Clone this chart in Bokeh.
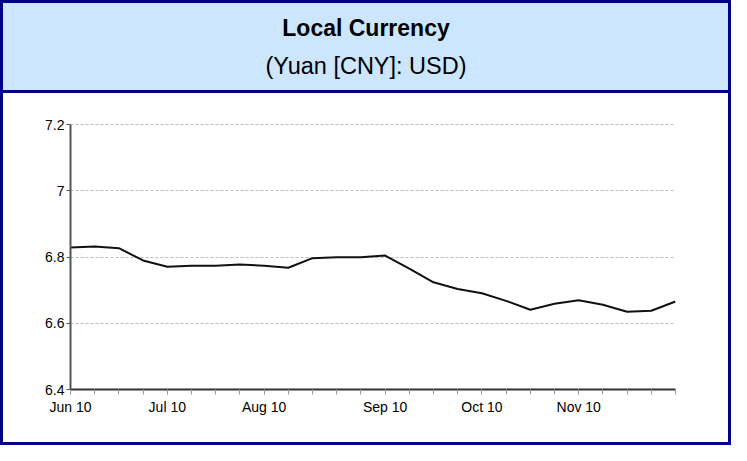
import pandas as pd
from bokeh.plotting import figure
from bokeh.layouts import column
from bokeh.models import ColumnDataSource, FixedTicker, DatetimeTickFormatter, Range1d
from bokeh.core.properties import value
from bokeh.embed import file_html
from bokeh.resources import INLINE

# ---- data ----
title_text = "Local Currency"
subtitle_text = "(Yuan [CNY]: USD)"
dates = ["2010-06-07", "2010-06-14", "2010-06-21", "2010-06-28",
         "2010-07-05", "2010-07-12", "2010-07-19", "2010-07-26",
         "2010-08-02", "2010-08-09", "2010-08-16", "2010-08-23", "2010-08-30",
         "2010-09-06", "2010-09-13", "2010-09-20", "2010-09-27",
         "2010-10-04", "2010-10-11", "2010-10-18", "2010-10-25",
         "2010-11-01", "2010-11-08", "2010-11-15", "2010-11-22", "2010-11-29"]
cny_per_usd = [6.829, 6.832, 6.827, 6.790, 6.771, 6.774, 6.774, 6.778,
               6.774, 6.768, 6.797, 6.800, 6.800, 6.805, 6.765, 6.724,
               6.704, 6.691, 6.668, 6.641, 6.659, 6.670, 6.656, 6.635,
               6.638, 6.666]
y_ticks = [6.4, 6.6, 6.8, 7.0, 7.2]
y_tick_labels = ["6.4", "6.6", "6.8", "7", "7.2"]

NAVY = "#000088"
HEAD = "#cce6ff"
FONT = "Liberation Sans"

dt = pd.to_datetime(dates)
ms = [d.timestamp() * 1000 for d in dt]
major = []
seen = set()
for d, m in zip(dt, ms):
    key = (d.year, d.month)
    if key not in seen:
        seen.add(key)
        major.append(m)


def no_align(fig):
    try:
        fig.frame_align = False
    except Exception:
        pass


# ---- header ----
head = figure(width=725, height=87, output_backend="svg", toolbar_location=None,
              x_range=Range1d(0, 1), y_range=Range1d(0, 1),
              min_border=0, background_fill_color=HEAD, border_fill_color=HEAD,
              outline_line_color=None)
no_align(head)
head.axis.visible = False
head.grid.visible = False
head.text(x=[0.5], y=[0.724], text=[title_text], text_align="center",
          text_baseline="middle", text_font=value(FONT), text_font_style="bold",
          text_font_size="23px", text_color="#000000")
head.text(x=[0.5], y=[0.28], text=[subtitle_text], text_align="center",
          text_baseline="middle", text_font=value(FONT),
          text_font_size="23.5px", text_color="#000000")

# ---- main plot ----
src = ColumnDataSource(dict(x=dt, y=cny_per_usd))
p = figure(width=725, height=349, output_backend="svg", toolbar_location=None,
           x_axis_type="datetime",
           x_range=Range1d(ms[0], ms[-1]),
           y_range=Range1d(y_ticks[0], y_ticks[-1] + 0.004),
           min_border_left=67, min_border_right=53, min_border_top=30,
           min_border_bottom=53, outline_line_color=None,
           background_fill_color="white", border_fill_color="white")
no_align(p)

p.xgrid.visible = False
p.ygrid.ticker = FixedTicker(ticks=y_ticks)
p.ygrid.grid_line_color = "#bdbdbd"
p.ygrid.grid_line_dash = "3 2"
p.ygrid.grid_line_width = 1

p.line("x", "y", source=src, line_color="#111111", line_width=2)

xa = p.xaxis[0]
xa.ticker = FixedTicker(ticks=major, minor_ticks=ms)
xa.formatter = DatetimeTickFormatter(days="%b %y", months="%b %y", years="%b %y",
                                     hours="%b %y", minutes="%b %y")
xa.axis_line_color = "#333333"
xa.axis_line_width = 2
xa.major_tick_line_color = "#999999"
xa.minor_tick_line_color = "#999999"
xa.major_tick_out = 5
xa.major_tick_in = 0
xa.minor_tick_out = 5
xa.minor_tick_in = 0
xa.major_label_standoff = 4
xa.major_label_text_font = FONT
xa.major_label_text_font_size = "14px"
xa.major_label_text_color = "#000000"

ya = p.yaxis[0]
ya.ticker = FixedTicker(ticks=y_ticks)
ya.bounds = (y_ticks[0], y_ticks[-1])
ya.major_label_overrides = {t: l for t, l in zip(y_ticks, y_tick_labels)}
ya.axis_line_color = "#555555"
ya.axis_line_width = 2
ya.major_tick_line_color = "#555555"
ya.major_tick_out = 4
ya.major_tick_in = 0
ya.minor_tick_line_color = None
ya.major_label_standoff = 2
ya.major_label_text_font = FONT
ya.major_label_text_font_size = "14px"
ya.major_label_text_color = "#000000"

layout = column(
    column(head, styles={"background-color": HEAD}),
    column(p, styles={"background-color": "white"}),
    spacing=3,
    styles={"background-color": NAVY, "padding": "3px"},
)

open("out.html", "w").write(file_html(layout, INLINE))
